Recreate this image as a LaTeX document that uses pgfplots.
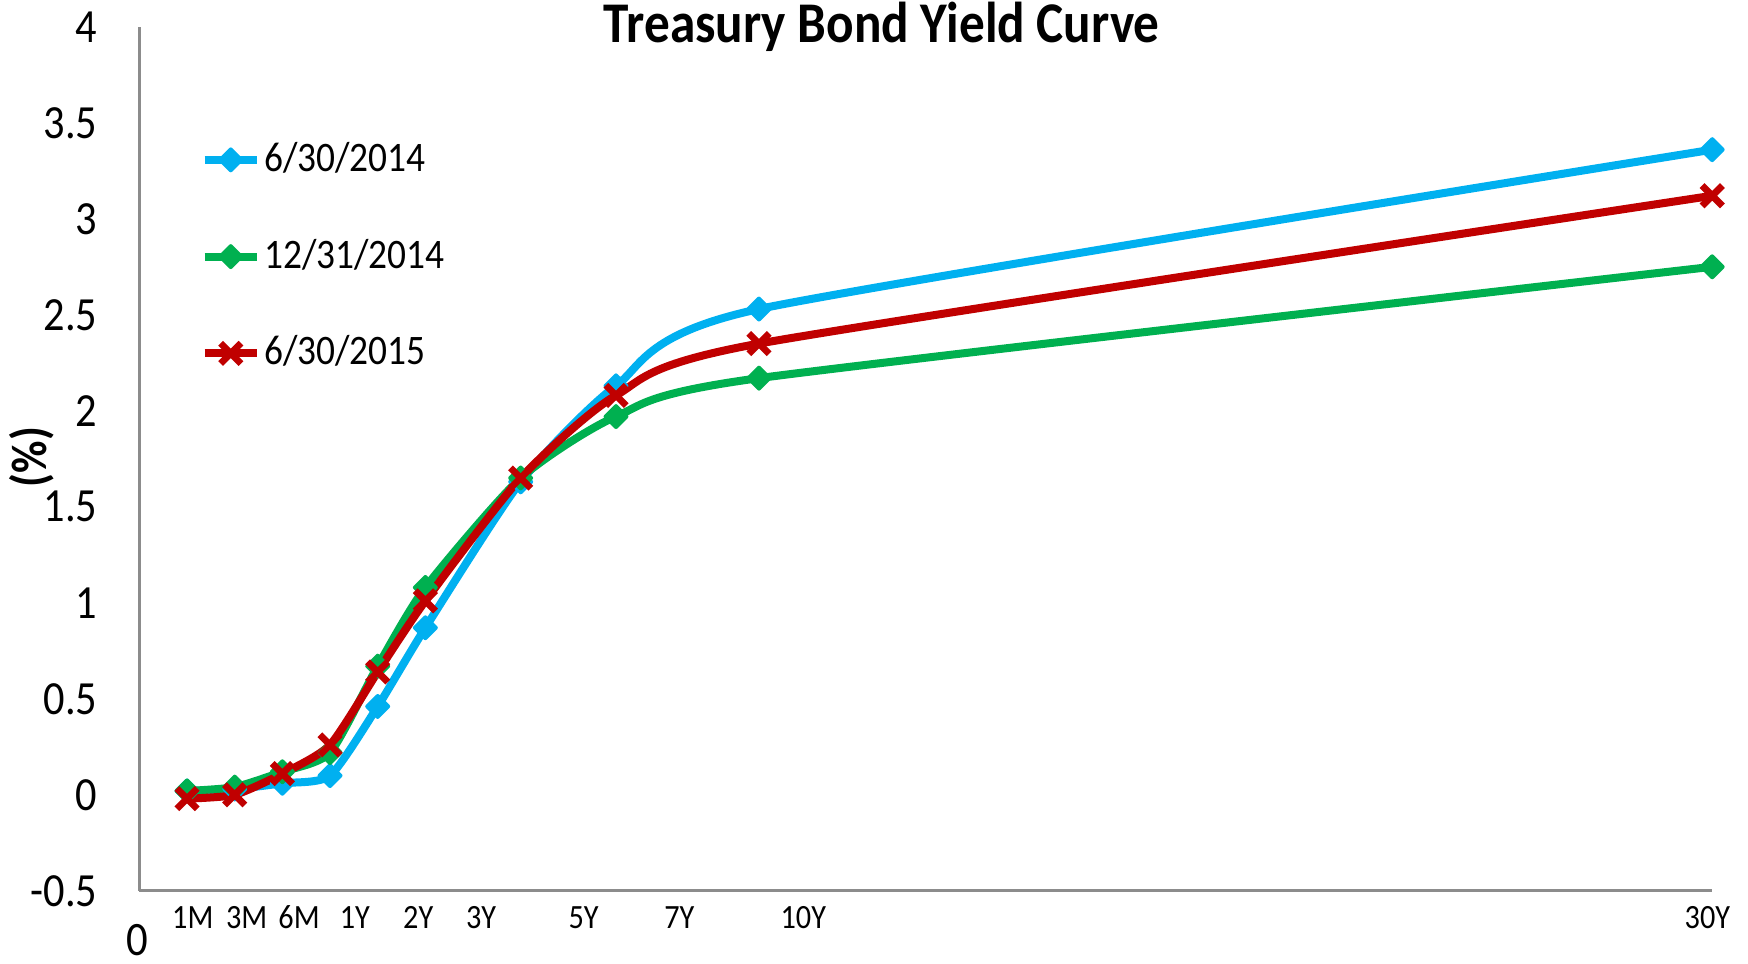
\documentclass[border=0pt]{standalone}
\usepackage{fontspec}
\setmainfont{Carlito}[FakeStretch=0.89]
\usepackage{pgfplots}
\pgfplotsset{compat=1.18}
\usetikzlibrary{calc}

\definecolor{cBlue}{HTML}{00B0F0}
\definecolor{cGreen}{HTML}{00B050}
\definecolor{cRed}{HTML}{C00000}
\definecolor{axisgray}{HTML}{8C8C8C}

% maturities plotted at positions 1,2,3,4,5,6,8,10,13,33
\pgfplotstableread{
x    y
1    0.02
2    0.03
3    0.06
4    0.10
5    0.46
6    0.87
8    1.63
10   2.13
13   2.53
33   3.36
}\juneFourteen
\pgfplotstableread{
x    y
1    0.02
2    0.04
3    0.12
4    0.22
5    0.67
6    1.08
8    1.65
10   1.97
13   2.17
33   2.75
}\decFourteen
\pgfplotstableread{
x    y
1    -0.02
2    0.00
3    0.11
4    0.26
5    0.64
6    1.01
8    1.65
10   2.08
13   2.35
33   3.12
}\juneFifteen

\pgfplotsset{
  curve/.style={line width=2pt, smooth, tension=0.38},
  dia/.style={mark=square*, mark size=1.85pt,
    mark options={solid, rotate=45, fill=#1, draw=#1, line width=1pt, line join=round}},
  cross/.style={mark=x, mark size=3.6pt, mark options={solid, line width=1.7pt}},
}

\begin{document}
\begin{tikzpicture}
\begin{axis}[
  name=ax,
  scale only axis,
  width=393.2pt, height=216pt,
  xmin=0, xmax=33, ymin=-0.5, ymax=4,
  axis x line*=bottom, axis y line*=left,
  axis line style={-, draw=axisgray, line width=0.7pt},
  every outer x axis line/.append style={-},
  every outer y axis line/.append style={-},
  major tick length=0pt,
  xtick={1.12,2.25,3.35,4.52,5.85,7.17,9.32,11.33,13.93,32.9},
  xticklabels={1M,3M,6M,1Y,2Y,3Y,5Y,7Y,10Y,30Y},
  xticklabel style={anchor=center, yshift=-6.7pt, font=\fontsize{8.5}{9}\selectfont},
  extra x ticks={0},
  extra x tick labels={0},
  extra x tick style={xticklabel style={yshift=-5.7pt, xshift=-0.5pt, inner sep=0pt, font=\fontsize{12}{13}\selectfont}},
  ytick={-0.5,0,0.5,1,1.5,2,2.5,3,3.5,4},
  yticklabels={-0.5,0,0.5,1,1.5,2,2.5,3,3.5,4},
  yticklabel style={anchor=east, inner sep=0pt, xshift=-10.3pt, font=\fontsize{11.9}{13}\selectfont},
  title={\bfseries Treasury Bond Yield Curve},
  every axis title/.style={at={(axis description cs:0.472,1)}, anchor=base, yshift=-3.9pt, font=\fontsize{14.4}{16}\selectfont},
  ylabel={\bfseries (\%)},
  every axis y label/.style={at={(axis description cs:-0.0687,0.502)}, rotate=90, anchor=center, font=\fontsize{12.5}{14}\selectfont},
  legend style={draw=none, fill=none, at={(axis description cs:0.0384,0.734)}, anchor=west,
    font=\fontsize{10.5}{12}\selectfont, row sep=13.8pt, inner sep=0pt,
    nodes={inner sep=0.8pt}},
  legend cell align=left,
  legend image code/.code={
    \draw[mark repeat=2, mark phase=2, #1] plot coordinates {(0pt,0pt) (6.55pt,0pt) (13.1pt,0pt)};
  },
  clip=false,
]
\addplot[cBlue, curve, dia=cBlue] table[x=x, y=y] {\juneFourteen};
\addlegendentry{6/30/2014}
\addplot[cGreen, curve, dia=cGreen] table[x=x, y=y] {\decFourteen};
\addlegendentry{12/31/2014}
\addplot[cRed, curve, cross] table[x=x, y=y] {\juneFifteen};
\addlegendentry{6/30/2015}
\end{axis}
\pgfresetboundingbox
\path (ax.south west) ++(-34.85pt,-18.1pt) rectangle ($(ax.south west)+(402.15pt,222.7pt)$);
\end{tikzpicture}
\end{document}
